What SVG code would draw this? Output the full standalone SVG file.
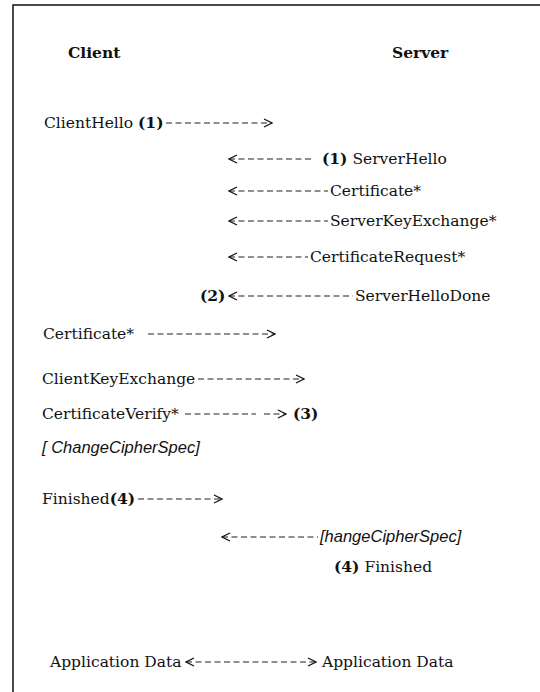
<svg xmlns="http://www.w3.org/2000/svg" width="540" height="692" viewBox="0 0 540 692">
<style>
text{font-family:"DejaVu Serif","Liberation Serif",serif;font-size:15.5px;fill:#111}
.b{font-weight:bold}
.i{font-family:"Liberation Sans","DejaVu Sans",sans-serif;font-style:italic;font-size:16.5px}
.c{stroke:#222;stroke-width:1.2;stroke-dasharray:6 3.5;fill:none}
.frame{stroke:#111;stroke-width:1.5;fill:none}
</style>
<defs>
<marker id="ah" markerUnits="userSpaceOnUse" viewBox="0 0 10 10" refX="9" refY="5" markerWidth="10" markerHeight="10" orient="auto-start-reverse">
<polyline points="1,1 9,5 1,9" fill="none" stroke="#111" stroke-width="1.2"/>
</marker>
</defs>
<rect width="540" height="692" fill="#fff"/>
<path class="frame" d="M13,692 V5 H540"/>
<g id="client-head"><text class="b" x="68" y="58">Client</text></g>
<g id="server-head"><text class="b" x="392" y="58">Server</text></g>
<g id="client-hello"><text x="44" y="128">ClientHello <tspan class="b">(1)</tspan></text></g>
<g id="server-hello"><text x="322" y="164"><tspan class="b">(1)</tspan> ServerHello</text></g>
<g id="server-cert"><text x="330" y="196">Certificate*</text></g>
<g id="server-key-exchange"><text x="330" y="226">ServerKeyExchange*</text></g>
<g id="cert-request"><text x="310" y="262">CertificateRequest*</text></g>
<g id="server-hello-done"><text class="b" x="200" y="301">(2)</text><text x="355" y="301">ServerHelloDone</text></g>
<g id="client-cert"><text x="43" y="339">Certificate*</text></g>
<g id="client-key-exchange"><text x="42" y="384">ClientKeyExchange</text></g>
<g id="cert-verify"><text x="42" y="419">CertificateVerify*</text><text class="b" x="293" y="419">(3)</text></g>
<g id="client-ccs"><text class="i" x="42" y="453">[ ChangeCipherSpec]</text></g>
<g id="client-finished"><text x="42" y="504">Finished<tspan class="b">(4)</tspan></text></g>
<g id="server-ccs"><text class="i" x="320" y="542">[hangeCipherSpec]</text></g>
<g id="server-finished"><text x="334" y="572"><tspan class="b">(4)</tspan> Finished</text></g>
<g id="app-data-client"><text x="50" y="667">Application Data</text></g>
<g id="app-data-server"><text x="322" y="667">Application Data</text></g>
<g id="connectors">
<line class="c" x1="166" y1="123" x2="272" y2="123" marker-end="url(#ah)"/>
<line class="c" x1="229" y1="159" x2="314" y2="159" marker-start="url(#ah)"/>
<line class="c" x1="229" y1="191" x2="328" y2="191" marker-start="url(#ah)"/>
<line class="c" x1="229" y1="221" x2="328" y2="221" marker-start="url(#ah)"/>
<line class="c" x1="229" y1="257" x2="308" y2="257" marker-start="url(#ah)"/>
<line class="c" x1="229" y1="296" x2="353" y2="296" marker-start="url(#ah)"/>
<line class="c" x1="148" y1="334" x2="275" y2="334" marker-end="url(#ah)"/>
<line class="c" x1="198" y1="379" x2="304" y2="379" marker-end="url(#ah)"/>
<line class="c" x1="185" y1="414" x2="256" y2="414"/>
<line class="c" x1="264" y1="414" x2="286" y2="414" marker-end="url(#ah)"/>
<line class="c" x1="138" y1="499" x2="222" y2="499" marker-end="url(#ah)"/>
<line class="c" x1="222" y1="537" x2="318" y2="537" marker-start="url(#ah)"/>
<line class="c" x1="186" y1="662" x2="316" y2="662" marker-start="url(#ah)" marker-end="url(#ah)"/>
</g>
</svg>
